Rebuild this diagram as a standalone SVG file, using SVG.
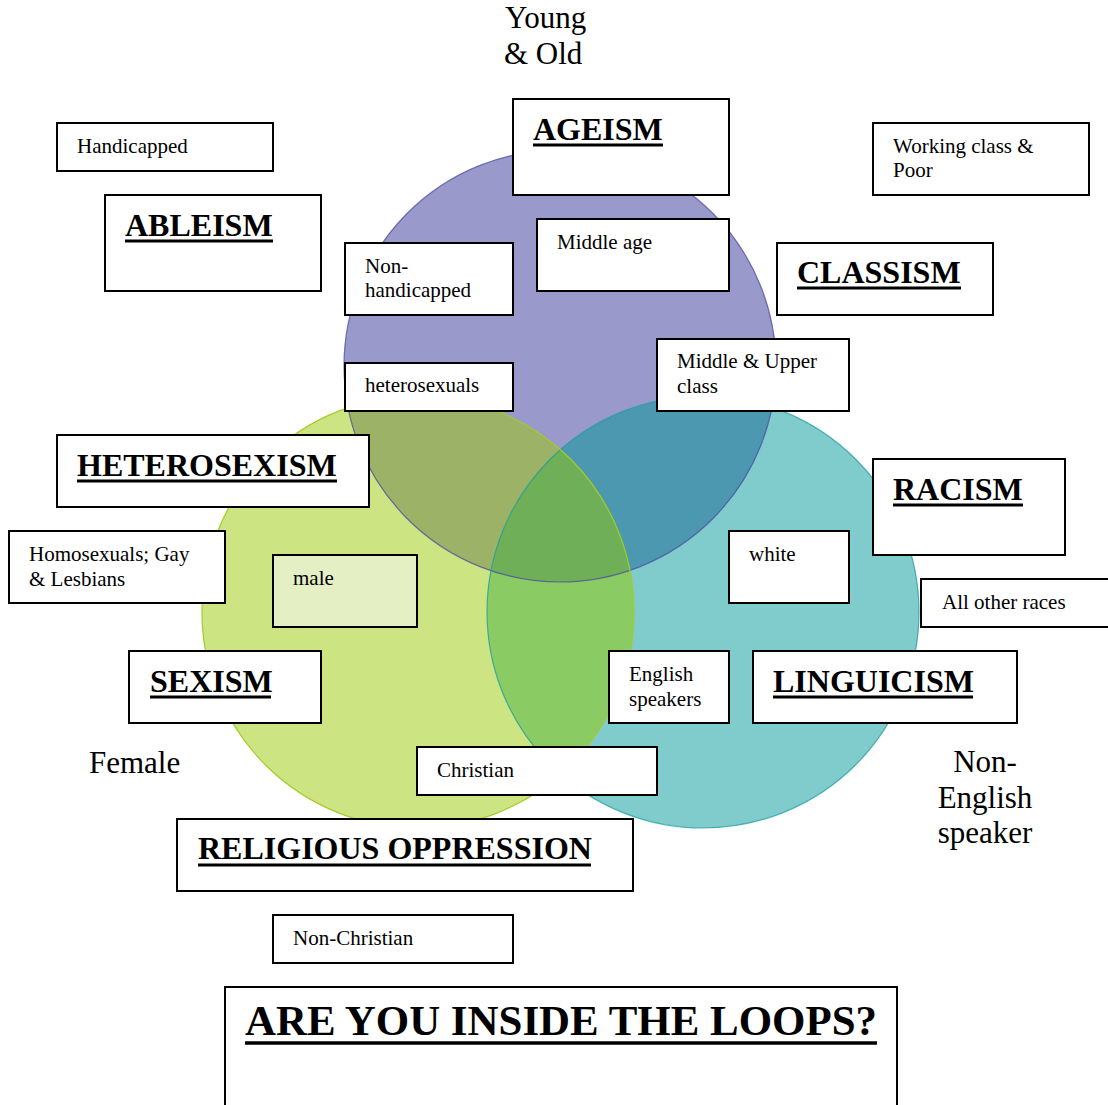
<svg xmlns="http://www.w3.org/2000/svg" width="1108" height="1105" viewBox="0 0 1108 1105">
<style>
.box{fill:#fff;stroke:#000;stroke-width:2}
.t{font-family:"Liberation Serif","Times New Roman",serif;font-size:21px;fill:#000}
.h{font-family:"Liberation Serif","Times New Roman",serif;font-size:32px;font-weight:bold;fill:#000}
.big{font-family:"Liberation Serif","Times New Roman",serif;font-size:31px;fill:#000}
.ul{stroke:#000;stroke-width:3}
</style>
<defs>
<clipPath id="cP"><circle cx="560" cy="366" r="216"/></clipPath>
<clipPath id="cG"><circle cx="418" cy="612" r="216"/></clipPath>
<clipPath id="cT"><circle cx="703" cy="612" r="216"/></clipPath>
</defs>
<rect width="1108" height="1105" fill="#fff"/>
<g id="venn">
<circle cx="560" cy="366" r="216" fill="#9999CB"/>
<circle cx="418" cy="612" r="216" fill="#CDE483"/>
<circle cx="703" cy="612" r="216" fill="#80CBCB"/>
<circle cx="418" cy="612" r="216" fill="#9BB267" clip-path="url(#cP)"/>
<circle cx="703" cy="612" r="216" fill="#4B98B0" clip-path="url(#cP)"/>
<circle cx="703" cy="612" r="216" fill="#8BCB64" clip-path="url(#cG)"/>
<g clip-path="url(#cP)"><circle cx="703" cy="612" r="216" fill="#6FAF57" clip-path="url(#cG)"/></g>
<circle cx="560" cy="366" r="216" fill="none" stroke="#4B4BA0" stroke-width="1.2" stroke-opacity="0.75"/>
<circle cx="703" cy="612" r="216" fill="none" stroke="#1E9E9E" stroke-width="1.2" stroke-opacity="0.75"/>
<circle cx="418" cy="612" r="216" fill="none" stroke="#A2CC26" stroke-width="1.2"/>
</g>
<g id="connectors"/>
<g id="young-old"><text class="big" x="505" y="28">Young</text><text class="big" x="504" y="64">&amp; Old</text></g>
<g id="handicapped"><rect class="box" x="57" y="123" width="216" height="48"/><text class="t" x="77" y="153">Handicapped</text></g>
<g id="ableism"><rect class="box" x="105" y="195" width="216" height="96"/><text class="h" x="125" y="236">ABLEISM</text><line class="ul" x1="125" y1="241" x2="273" y2="241"/></g>
<g id="ageism"><rect class="box" x="513" y="99" width="216" height="96"/><text class="h" x="533" y="140">AGEISM</text><line class="ul" x1="533" y1="145" x2="663" y2="145"/></g>
<g id="working-class"><rect class="box" x="873" y="123" width="216" height="72"/><text class="t" x="893" y="153">Working class &amp;</text><text class="t" x="893" y="177">Poor</text></g>
<g id="classism"><rect class="box" x="777" y="243" width="216" height="72"/><text class="h" x="797" y="283">CLASSISM</text><line class="ul" x1="797" y1="288" x2="961" y2="288"/></g>
<g id="non-handicapped"><rect class="box" x="345" y="243" width="168" height="72"/><text class="t" x="365" y="273">Non-</text><text class="t" x="365" y="297">handicapped</text></g>
<g id="middle-age"><rect class="box" x="537" y="219" width="192" height="72"/><text class="t" x="557" y="249">Middle age</text></g>
<g id="heterosexuals"><rect class="box" x="345" y="363" width="168" height="48"/><text class="t" x="365" y="392">heterosexuals</text></g>
<g id="middle-upper"><rect class="box" x="657" y="339" width="192" height="72"/><text class="t" x="677" y="368">Middle &amp; Upper</text><text class="t" x="677" y="393">class</text></g>
<g id="heterosexism"><rect class="box" x="57" y="435" width="312" height="72"/><text class="h" x="77" y="476">HETEROSEXISM</text><line class="ul" x1="77" y1="481" x2="337" y2="481"/></g>
<g id="racism"><rect class="box" x="873" y="459" width="192" height="96"/><text class="h" x="893" y="500">RACISM</text><line class="ul" x1="893" y1="505" x2="1023" y2="505"/></g>
<g id="homosexuals"><rect class="box" x="9" y="531" width="216" height="72"/><text class="t" x="29" y="561">Homosexuals; Gay</text><text class="t" x="29" y="586">&amp; Lesbians</text></g>
<g id="male"><rect class="box" x="273" y="555" width="144" height="72" style="fill:#E4F0C4"/><text class="t" x="293" y="585">male</text></g>
<g id="white"><rect class="box" x="729" y="531" width="120" height="72"/><text class="t" x="749" y="561">white</text></g>
<g id="all-other-races"><rect class="box" x="921" y="579" width="200" height="48"/><text class="t" x="942" y="609">All other races</text></g>
<g id="sexism"><rect class="box" x="129" y="651" width="192" height="72"/><text class="h" x="150" y="692">SEXISM</text><line class="ul" x1="150" y1="697" x2="271" y2="697"/></g>
<g id="english-speakers"><rect class="box" x="609" y="651" width="120" height="72"/><text class="t" x="629" y="681">English</text><text class="t" x="629" y="706">speakers</text></g>
<g id="linguicism"><rect class="box" x="753" y="651" width="264" height="72"/><text class="h" x="773" y="692">LINGUICISM</text><line class="ul" x1="773" y1="697" x2="973" y2="697"/></g>
<g id="female"><text class="big" x="89" y="773">Female</text></g>
<g id="non-english"><text class="big" x="985" y="772" text-anchor="middle">Non-</text><text class="big" x="985" y="808" text-anchor="middle">English</text><text class="big" x="985" y="843" text-anchor="middle">speaker</text></g>
<g id="christian"><rect class="box" x="417" y="747" width="240" height="48"/><text class="t" x="437" y="777">Christian</text></g>
<g id="religious-oppression"><rect class="box" x="177" y="819" width="456" height="72"/><text class="h" x="198" y="859">RELIGIOUS OPPRESSION</text><line class="ul" x1="198" y1="865" x2="591" y2="865"/></g>
<g id="non-christian"><rect class="box" x="273" y="915" width="240" height="48"/><text class="t" x="293" y="945">Non-Christian</text></g>
<g id="loops"><rect class="box" x="225" y="987" width="672" height="140"/><text class="h" x="245" y="1035" style="font-size:42px" textLength="632" lengthAdjust="spacingAndGlyphs">ARE YOU INSIDE THE LOOPS?</text><line class="ul" x1="245" y1="1043" x2="877" y2="1043" style="stroke-width:3.5"/></g>
</svg>
